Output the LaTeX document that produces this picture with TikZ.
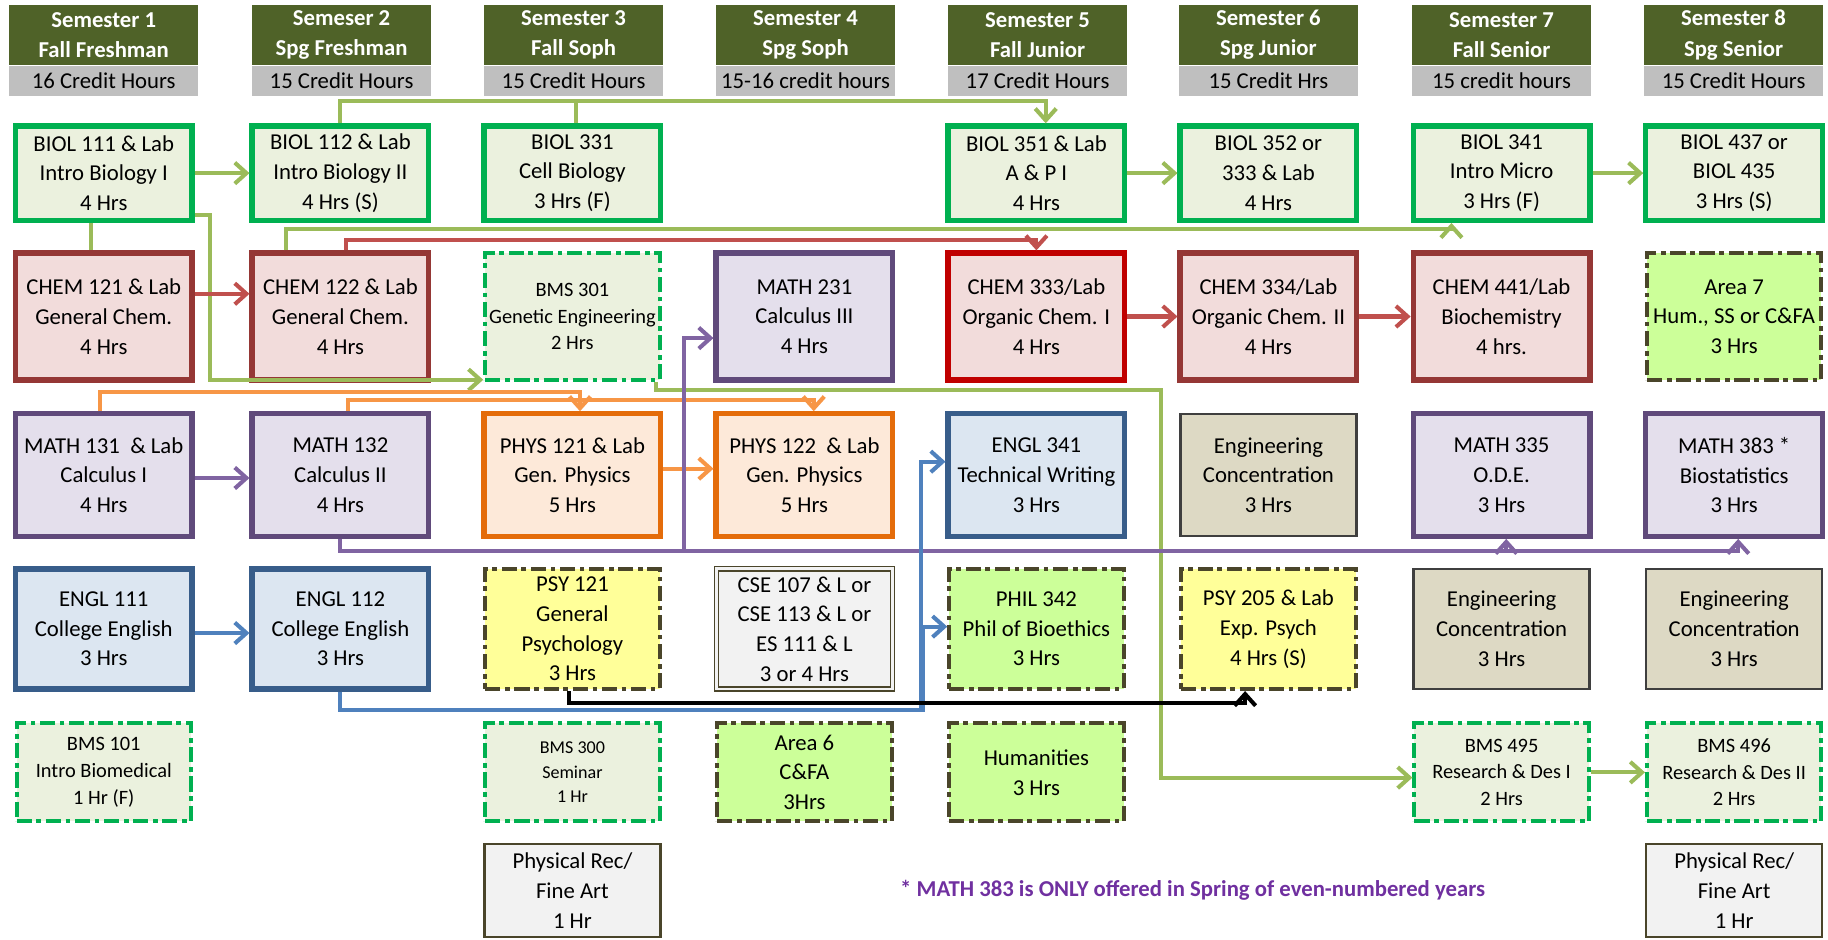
\documentclass[tikz,border=0pt]{standalone}
\usepackage{fontspec}
\setmainfont{Carlito}
\usetikzlibrary{positioning,arrows.meta}
\definecolor{hdrgreen}{HTML}{4F6228}
\definecolor{hdrgray}{HTML}{BFBFBF}
\definecolor{biolline}{HTML}{00B050}
\definecolor{biolfill}{HTML}{EBF1DE}
\definecolor{chemline}{HTML}{953735}
\definecolor{chemred}{HTML}{C00000}
\definecolor{chemfill}{HTML}{F2DCDB}
\definecolor{mathline}{HTML}{604A7B}
\definecolor{mathfill}{HTML}{E4DFEC}
\definecolor{physline}{HTML}{E46C0A}
\definecolor{physfill}{HTML}{FDE9D9}
\definecolor{englline}{HTML}{385D8A}
\definecolor{englfill}{HTML}{DCE6F1}
\definecolor{concline}{HTML}{3F3F3F}
\definecolor{concfill}{HTML}{DDD9C4}
\definecolor{oliveline}{HTML}{4A452A}
\definecolor{psyfill}{HTML}{FFFF99}
\definecolor{limefill}{HTML}{CCFF99}
\definecolor{recfill}{HTML}{F2F2F2}
\definecolor{grnarrow}{HTML}{9BBB59}
\definecolor{redarrow}{HTML}{C0504D}
\definecolor{purarrow}{HTML}{8064A2}
\definecolor{orgarrow}{HTML}{F79646}
\definecolor{bluarrow}{HTML}{4F81BD}
\definecolor{notepurple}{HTML}{7030A0}
\begin{document}
\begin{tikzpicture}[x=1pt, y=-1pt,
    every node/.style = {align=center, inner sep=0pt, font=\fontsize{19.5}{25.5}\selectfont},
    sem/.style = {fill=hdrgreen, text=white, minimum width=153pt, minimum height=52pt, font=\fontsize{19.5}{26}\selectfont\bfseries},
    hrs/.style = {fill=hdrgray, minimum width=153pt, minimum height=26pt},
    course/.style = {draw, line width=4.5pt, minimum width=151.5pt},
    elect/.style = {draw, line width=3.5pt, minimum width=149.5pt, dash pattern=on 13pt off 4pt on 4pt off 4pt},
    thinbox/.style = {draw, line width=2pt, minimum width=151pt},
    biolbox/.style = {course, draw=biolline, fill=biolfill},
    chembox/.style = {course, draw=chemline, fill=chemfill},
    mathbox/.style = {course, draw=mathline, fill=mathfill},
    physbox/.style = {course, draw=physline, fill=physfill},
    englbox/.style = {course, draw=englline, fill=englfill},
    bmsbox/.style = {elect, draw=biolline, fill=biolfill, font=\fontsize{17.5}{23}\selectfont},
    genbox/.style = {elect, draw=oliveline, fill=limefill},
    psybox/.style = {elect, draw=oliveline, fill=psyfill},
    concbox/.style = {thinbox, draw=concline, fill=concfill},
    recbox/.style = {thinbox, draw=oliveline, fill=recfill},
    r1/.style = {minimum height=81pt},
    r2/.style = {minimum height=109pt},
    r3/.style = {minimum height=105pt},
    r4/.style = {minimum height=103pt},
    r5/.style = {minimum height=84pt},
    r6/.style = {minimum height=80pt},
    link/.style = {line width=3.5pt, -{Straight Barb[length=10pt, width=18pt]}},
    grn/.style = {link, draw=grnarrow},
    red/.style = {link, draw=redarrow},
    pur/.style = {link, draw=purarrow},
    org/.style = {link, draw=orgarrow},
    blu/.style = {link, draw=bluarrow},
    blk/.style = {link, draw=black}]
    \useasboundingbox (0,0) rectangle (1568,806);

    % semester headers
    \node[sem, minimum width=162pt] (s1) at (89,30) {Semester 1\\Fall Freshman};
    \node[hrs, minimum width=162pt, below=0pt of s1] (h1) {16 Credit Hours};
    \node[sem] (s2) at (293,30) {Semeser 2\\Spg Freshman};
    \node[hrs, below=0pt of s2] (h2) {15 Credit Hours};
    \node[sem] (s3) at (492,30) {Semester 3\\Fall Soph};
    \node[hrs, below=0pt of s3] (h3) {15 Credit Hours};
    \node[sem] (s4) at (691,30) {Semester 4\\Spg Soph};
    \node[hrs, below=0pt of s4] (h4) {15-16 credit hours};
    \node[sem] (s5) at (890,30) {Semester 5\\Fall Junior};
    \node[hrs, below=0pt of s5] (h5) {17 Credit Hours};
    \node[sem] (s6) at (1088,30) {Semester 6\\Spg Junior};
    \node[hrs, below=0pt of s6] (h6) {15 Credit Hrs};
    \node[sem] (s7) at (1288,30) {Semester 7\\Fall Senior};
    \node[hrs, below=0pt of s7] (h7) {15 credit hours};
    \node[sem] (s8) at (1487,30) {Semester 8\\Spg Senior};
    \node[hrs, below=0pt of s8] (h8) {15 Credit Hours};

    % row 1
    \node[biolbox, r1] (biol111) at (89,148.5) {BIOL 111 \& Lab\\Intro Biology I\\4 Hrs};
    \node[biolbox, r1] (biol112) at (292,148.5) {BIOL 112 \& Lab\\Intro Biology II\\4 Hrs (S)};
    \node[biolbox, r1] (biol331) at (491,148.5) {BIOL 331\\Cell Biology\\3 Hrs (F)};
    \node[biolbox, r1] (biol351) at (889,148.5) {BIOL 351 \& Lab\\A \& P I\\4 Hrs};
    \node[biolbox, r1] (biol352) at (1088,148.5) {BIOL 352 or\\333 \& Lab\\4 Hrs};
    \node[biolbox, r1] (biol341) at (1288,148.5) {BIOL 341\\Intro Micro\\3 Hrs (F)};
    \node[biolbox, r1] (biol437) at (1487.5,148.5) {BIOL 437 or\\BIOL 435\\3 Hrs (S)};

    % row 2
    \node[chembox, r2] (chem121) at (89,271.5) {CHEM 121 \& Lab\\General Chem.\\4 Hrs};
    \node[chembox, r2] (chem122) at (292,271.5) {CHEM 122 \& Lab\\General Chem.\\4 Hrs};
    \node[bmsbox, r2] (bms301) at (491,271.5) {BMS 301\\Genetic Engineering\\2 Hrs};
    \node[mathbox, r2] (math231) at (690,271.5) {MATH 231\\Calculus III\\4 Hrs};
    \node[chembox, r2, draw=chemred] (chem333) at (889,271.5) {CHEM 333/Lab\\Organic Chem. I\\4 Hrs};
    \node[chembox, r2] (chem334) at (1088,271.5) {CHEM 334/Lab\\Organic Chem. II\\4 Hrs};
    \node[chembox, r2] (chem441) at (1288,271.5) {CHEM 441/Lab\\Biochemistry\\4 hrs.};
    \node[genbox, r2] (area7) at (1487.5,271.5) {Area 7\\Hum., SS or C\&FA\\3 Hrs};

    % row 3
    \node[mathbox, r3] (math131) at (89,407.5) {MATH 131~ \& Lab\\Calculus I\\4 Hrs};
    \node[mathbox, r3] (math132) at (292,407.5) {MATH 132\\Calculus II\\4 Hrs};
    \node[physbox, r3] (phys121) at (491,407.5) {PHYS 121 \& Lab\\Gen. Physics\\5 Hrs};
    \node[physbox, r3] (phys122) at (690,407.5) {PHYS 122~ \& Lab\\Gen. Physics\\5 Hrs};
    \node[englbox, r3] (engl341) at (889,407.5) {ENGL 341\\Technical Writing\\3 Hrs};
    \node[concbox, r3] (conc6) at (1088,407.5) {Engineering\\Concentration\\3 Hrs};
    \node[mathbox, r3] (math335) at (1288,407.5) {MATH 335\\O.D.E.\\3 Hrs};
    \node[mathbox, r3] (math383) at (1487.5,407.5) {MATH 383 *\\Biostatistics\\3 Hrs};

    % row 4
    \node[englbox, r4] (engl111) at (89,539.5) {ENGL 111\\College English\\3 Hrs};
    \node[englbox, r4] (engl112) at (292,539.5) {ENGL 112\\College English\\3 Hrs};
    \node[psybox, r4] (psy121) at (491,539.5) {PSY 121\\General\\Psychology\\3 Hrs};
    \node[recbox, r4, line width=1.2pt, double=recfill, double distance=2.5pt] (cse) at (690,539.5) {CSE 107 \& L or\\CSE 113 \& L or\\ES 111 \& L\\3 or 4 Hrs};
    \node[genbox, r4] (phil342) at (889,539.5) {PHIL 342\\Phil of Bioethics\\3 Hrs};
    \node[psybox, r4] (psy205) at (1088,539.5) {PSY 205 \& Lab\\Exp. Psych\\4 Hrs (S)};
    \node[concbox, r4] (conc7) at (1288,539.5) {Engineering\\Concentration\\3 Hrs};
    \node[concbox, r4] (conc8) at (1487.5,539.5) {Engineering\\Concentration\\3 Hrs};

    % row 5
    \node[bmsbox, r5] (bms101) at (89,662.5) {BMS 101\\Intro Biomedical\\1 Hr (F)};
    \node[bmsbox, r5, font=\fontsize{15.5}{21}\selectfont] (bms300) at (491,662.5) {BMS 300\\Seminar\\1 Hr};
    \node[genbox, r5] (area6) at (690,662.5) {Area 6\\C\&FA\\3Hrs};
    \node[genbox, r5] (hum) at (889,662.5) {Humanities\\3 Hrs};
    \node[bmsbox, r5] (bms495) at (1288,662.5) {BMS 495\\Research \& Des I\\2 Hrs};
    \node[bmsbox, r5] (bms496) at (1487.5,662.5) {BMS 496\\Research \& Des II\\2 Hrs};

    % row 6
    \node[recbox, r6] (rec3) at (491,764) {Physical Rec/\\Fine Art\\1 Hr};
    \node[recbox, r6] (rec8) at (1487.5,764) {Physical Rec/\\Fine Art\\1 Hr};
    \node[text=notepurple, font=\fontsize{19.5}{24}\selectfont\bfseries] (note) at (1023,764) {* MATH 383 is ONLY offered in Spring of even-numbered years};

    % biology
    \draw[grn] (biol111) -- (biol112);
    \draw[grn] (biol351) -- (biol352);
    \draw[grn] (biol341) -- (biol437);
    \draw[grn] (biol112.north) -- ++(0,-19) -| ([xshift=8pt]biol351.north);
    \draw[grn, -] ([xshift=3pt]biol331.north) -- ++(0,-19);
    \draw[grn, -] ([xshift=-11pt]biol111.south) -- ([xshift=-11pt]chem121.north);
    \draw[grn] ([yshift=7pt]biol111.south east) -- ++(13,0) |- ([yshift=2pt]bms301.south west);
    \draw[grn] ([xshift=-47pt]chem122.north) -- ++(0,-18) -| ([xshift=-43pt]biol341.south);
    \draw[grn] ([xshift=-5pt]bms301.south east) -- ++(0,7) -| ([xshift=-216pt, yshift=-4.5pt]bms495.west) -- ([yshift=-4.5pt]bms495.west);
    \draw[grn] (bms495) -- (bms496);

    % chemistry
    \draw[red] ([yshift=19.5pt]chem121.east) -- ([yshift=19.5pt]chem122.west);
    \draw[red] ([xshift=5pt]chem122.north) -- ++(0,-8.5) -| (chem333.north);
    \draw[red] (chem333) -- (chem334);
    \draw[red] (chem334) -- (chem441);

    % math and physics
    \draw[org] ([xshift=-3pt]math131.north) -- ++(0,-16.5) -| ([xshift=6.5pt]phys121.north);
    \draw[org] ([xshift=6.5pt]math132.north) -- ++(0,-10) -| ([xshift=8pt]phys122.north);
    \draw[org] ([yshift=5.5pt]phys121.east) -- ([yshift=5.5pt]phys122.west);
    \draw[pur] ([yshift=-2.5pt]math131.east) -- ([yshift=-2.5pt]math132.west);
    \draw[pur] (math132.south) -- ++(0,10) -| ([xshift=4pt]math335.south);
    \draw[pur] (math132.south) -- ++(0,10) -| ([xshift=3.5pt]math383.south);
    \draw[pur] (math132.south) -- ++(0,10) -| ([xshift=-25pt, yshift=-18.5pt]math231.west) -- ([yshift=-18.5pt]math231.west);

    % english and psychology
    \draw[blu] ([yshift=-3.5pt]engl111.east) -- ([yshift=-3.5pt]engl112.west);
    \draw[blu] (engl112.south) -- ++(0,16) -| ([xshift=-21pt, yshift=11.5pt]engl341.west) -- ([yshift=11.5pt]engl341.west);
    \draw[blu] (engl112.south) -- ++(0,16) -| ([xshift=-21pt, yshift=2pt]phil342.west) -- ([yshift=2pt]phil342.west);
    \draw[blk] ([xshift=-3pt]psy121.south) -- ++(0,10) -| ([xshift=-20pt]psy205.south);
\end{tikzpicture}
\end{document}
